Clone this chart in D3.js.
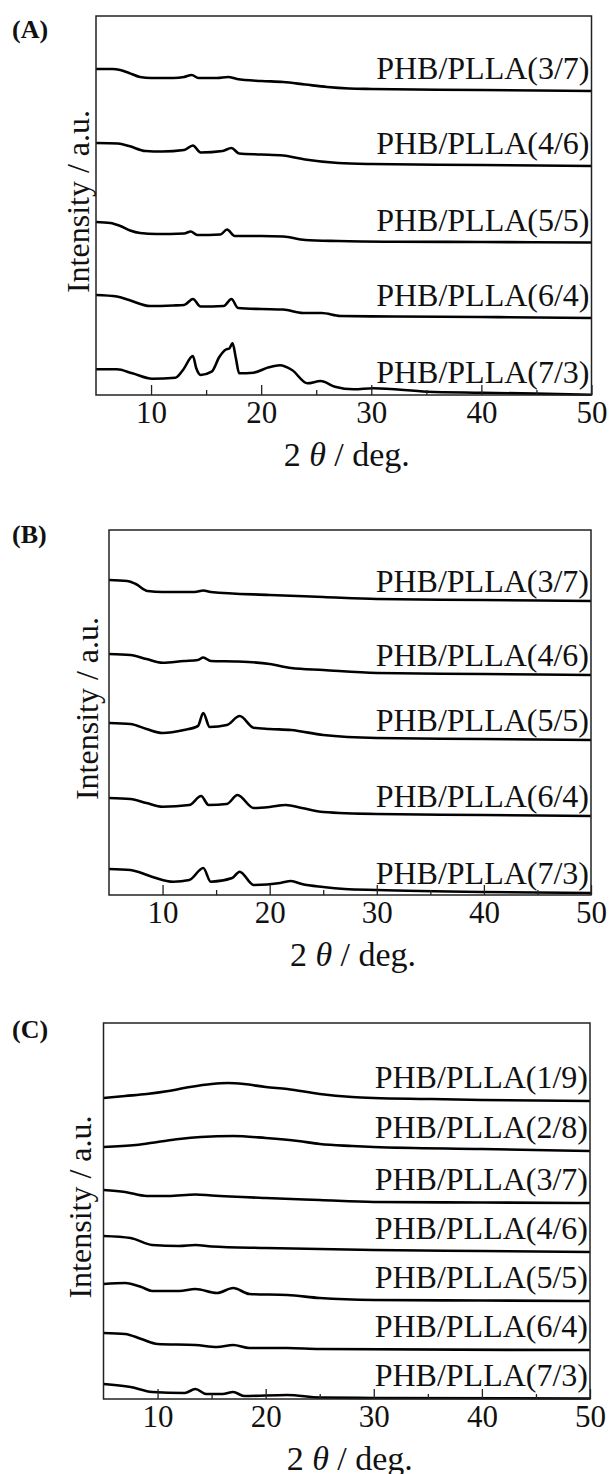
<!DOCTYPE html>
<meta charset="utf-8">

<!-- Load d3.js -->
<script src="https://d3js.org/d3.v7.min.js"></script>
<style>
  body { margin: 0; background: #fff; }
  text { font-family: "Liberation Serif", "Times New Roman", Times, serif; fill: #111; }
</style>

<div id="my_dataviz"></div>
<script>
  // tick values on the 2theta axis
  var xTicks = [10, 20, 30, 40, 50];
  var xMinor = [15, 25, 35, 45];

  // panel (A) traces: [2theta, intensity a.u.]
  var a37 = [[5,326],[6.5,326],[7.2,325],[8,322],[9,318],[10,317],[12,317],[13,318],[13.7,320],[14.3,317],[16,317],[17,318],[17.8,316],[20,314],[22,313],[24,310.5],[26,308],[28,306.5],[30,306],[40,305],[50,304]];
  var a46 = [[5,252],[7,251.5],[8,249],[9.5,244],[11,243.5],[13,245],[13.8,249.5],[14.5,242.5],[16.5,244],[17.3,247],[18,241.5],[20,240.5],[22,239.5],[24,235.5],[27,232],[30,231],[40,230],[50,229]];
  var a55 = [[5,173],[6.3,172],[7.2,169],[8.1,164.5],[9,162],[10.5,161],[13,161.5],[13.6,163.5],[14.2,160],[16.3,160.5],[16.9,165.5],[17.6,159],[20,159],[22,158.5],[24,155],[27,154],[32,153.3],[40,153],[50,152.5]];
  var a64 = [[5,100],[6.9,98.5],[8,95],[9.9,89],[12,89.5],[13,90],[13.8,96],[14.5,88.5],[16.6,89],[17.3,96],[17.9,87],[20,86],[22,85.5],[23.8,82],[25.5,82],[27.2,79],[32,78.5],[40,78],[50,77]];
  var a73 = [[5,25.7],[6.9,25.7],[8.3,21.7],[10.1,16.3],[12.2,17.3],[12.9,25],[13.8,39],[14.1,27],[14.5,20],[15.5,23.3],[16.2,38],[16.8,45.5],[17.1,46.5],[17.4,51.7],[17.7,37],[18,21.7],[19.3,22.3],[20.7,27.7],[21.7,29.7],[22.8,25],[24.2,11.7],[25.4,14],[26.7,8.3],[28.4,5.7],[30.2,6.7],[35.1,3.3],[40.1,2.3],[50,0.3]];
  var namesA = ["PHB/PLLA(3/7)", "PHB/PLLA(4/6)", "PHB/PLLA(5/5)", "PHB/PLLA(6/4)", "PHB/PLLA(7/3)"];

  // panel (B)
  var b37 = [[5,315],[6.7,314],[7.5,311],[8.6,304],[10,303],[13,303],[13.8,304.5],[14.5,303],[20,300],[25,298],[30,296],[40,295],[50,294]];
  var b46 = [[5,241],[7,240],[8.5,236],[10,232.3],[12,234],[13.3,235],[13.8,237.5],[14.5,234],[17,233.5],[18,233],[20,231],[22,227],[25,225],[30,222],[40,221],[50,220]];
  var b55 = [[5,172],[7,171],[8.5,166],[10,162],[12,165],[13.3,169],[13.8,182],[14.4,168],[16,170],[17.2,179],[18.5,167.3],[20,166],[22,165],[25,160],[30,157],[40,156],[50,155]];
  var b64 = [[5,97],[7,96],[8.5,92],[10,88.3],[12.5,90],[13.6,99],[14.3,90],[16,91],[17,100],[18.5,87],[20,88],[21.5,90],[23,87],[25,83],[30,81],[40,80],[50,79]];
  var b73 = [[5,26],[7,25],[9,18.3],[11,13.3],[12.5,15],[13.8,27],[14.5,13.3],[16.5,17],[17.2,23.3],[18.5,10],[21,12],[22,14],[23,11],[25,8],[27,6],[30,5],[40,3],[50,2]];
  var namesB = ["PHB/PLLA(3/7)", "PHB/PLLA(4/6)", "PHB/PLLA(5/5)", "PHB/PLLA(6/4)", "PHB/PLLA(7/3)"];

  // panel (C)
  var c19 = [[5,301],[7,303],[9,305],[11,308],[13,312],[15,315],[16.5,316],[18,315],[20,312],[22,310],[25,305],[28,302],[30,301],[35,300],[40,299],[50,298]];
  var c28 = [[5,252],[8,254],[10,257],[12,260],[14,262],[17,263],[20,261],[23,258],[25,255],[28,253],[30,252],[40,250],[50,248]];
  var c37 = [[5,209],[7,207],[9,203],[11,203],[13.5,204.5],[15,203.5],[20,201],[25,199],[30,197],[40,196.5],[50,196]];
  var c46 = [[5,163],[7.5,161],[9.5,154],[12,153],[13.5,154],[15,152.5],[20,151],[30,149],[40,148],[50,147]];
  var c55 = [[5,115],[7,116],[8.5,112],[9.5,108],[12,108],[13.5,110],[15.5,106],[17,111],[18.5,105],[22,104],[25,101],[30,99],[40,98.5],[50,98]];
  var c64 = [[5,66],[7,65],[8.5,60],[10,55],[13.5,54],[15.5,52],[17,54],[18.5,51],[22,51],[25,50],[50,49]];
  var c73 = [[5,15],[7.5,12],[9.5,7],[12.5,6],[13.5,10],[14.5,5],[16,5],[17,7],[18,3],[22,4],[25,1.5],[30,1],[50,0.5]];
  var namesC = ["PHB/PLLA(1/9)", "PHB/PLLA(2/8)", "PHB/PLLA(3/7)", "PHB/PLLA(4/6)", "PHB/PLLA(5/5)", "PHB/PLLA(6/4)", "PHB/PLLA(7/3)"];

  // layout of the three stacked panels
  var panels = [
    {tag: "(A)", tagY: 38, series: [a37, a46, a55, a64, a73], names: namesA,
     left: 96, right: 591.5, top: 16, bottom: 395, ymax: 379, titleX: 89, gap: 12},
    {tag: "(B)", tagY: 543, series: [b37, b46, b55, b64, b73], names: namesB,
     left: 109, right: 591, top: 530, bottom: 895, ymax: 365, titleX: 98, gap: 9},
    {tag: "(C)", tagY: 1038, series: [c19, c28, c37, c46, c55, c64, c73], names: namesC,
     left: 103.5, right: 590, top: 1023, bottom: 1399, ymax: 376, titleX: 91, gap: 13}
  ];

  var svg = d3.select("#my_dataviz")
    .append("svg")
      .attr("width", 609)
      .attr("height", 1474);

  panels.forEach(function(p) {
    var x = d3.scaleLinear().domain([5, 50]).range([p.left, p.right]);
    var y = d3.scaleLinear().domain([0, p.ymax]).range([p.bottom, p.top]);
    var g = svg.append("g");

    // traces
    var line = d3.line()
      .x(function(d) { return x(d[0]); })
      .y(function(d) { return y(d[1]); })
      .curve(d3.curveMonotoneX);
    g.selectAll(".trace")
      .data(p.series)
      .enter()
      .append("path")
        .attr("d", line)
        .attr("fill", "none")
        .attr("stroke", "#000")
        .attr("stroke-width", 2.6)
        .attr("stroke-linejoin", "round");

    // sample names above the tail of each trace
    g.selectAll(".name")
      .data(p.series)
      .enter()
      .append("text")
        .attr("x", p.right - 2)
        .attr("y", function(d) { return y(d[d.length - 1][1]) - p.gap; })
        .attr("text-anchor", "end")
        .style("font-size", "32px")
        .text(function(d, i) { return p.names[i]; });

    // minor ticks, inward
    var minor = g.append("g")
      .attr("transform", "translate(0," + p.bottom + ")")
      .call(d3.axisBottom(x).tickValues(xMinor).tickSize(-5).tickSizeOuter(0).tickFormat(""));
    minor.select(".domain").remove();
    minor.selectAll("line").attr("stroke", "#222").attr("stroke-width", 1.3);

    // major ticks with labels
    var major = g.append("g")
      .attr("transform", "translate(0," + p.bottom + ")")
      .call(d3.axisBottom(x).tickValues(xTicks).tickSize(-10).tickSizeOuter(0).tickPadding(6));
    major.select(".domain").remove();
    major.selectAll("line").attr("stroke", "#222").attr("stroke-width", 1.3);
    major.selectAll("text")
      .style("font-size", "31px")
      .style("font-family", "'Liberation Serif', 'Times New Roman', Times, serif")
      .attr("fill", "#111");

    // frame
    g.append("rect")
      .attr("x", p.left)
      .attr("y", p.top)
      .attr("width", p.right - p.left)
      .attr("height", p.bottom - p.top)
      .attr("fill", "none")
      .attr("stroke", "#222")
      .attr("stroke-width", 1.5);

    // x title
    var xt = g.append("text")
      .attr("x", (p.left + p.right) / 2 + 3)
      .attr("y", p.bottom + 71)
      .attr("text-anchor", "middle")
      .style("font-size", "34px");
    xt.append("tspan").text("2 ");
    xt.append("tspan").style("font-style", "italic").text("\u03b8");
    xt.append("tspan").text(" / deg.");

    // y title
    g.append("text")
      .attr("transform", "translate(" + p.titleX + "," + ((p.top + p.bottom) / 2 - 4) + ")rotate(-90)")
      .attr("text-anchor", "middle")
      .style("font-size", "32px")
      .text("Intensity / a.u.");

    // panel tag
    g.append("text")
      .attr("x", 12)
      .attr("y", p.tagY)
      .style("font-size", "26px")
      .style("font-weight", "bold")
      .text(p.tag);
  });
</script>
